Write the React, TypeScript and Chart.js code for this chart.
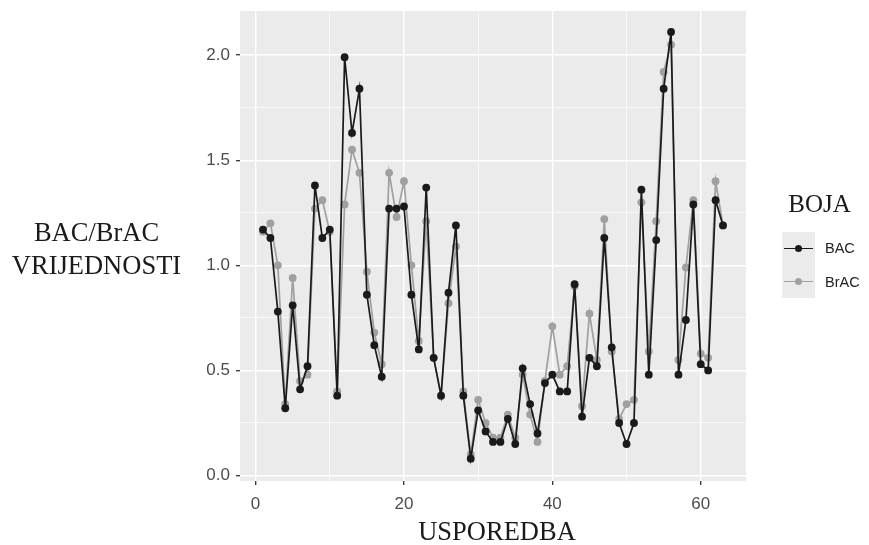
import React, { useEffect, useRef } from "react";
import { Chart, registerables } from "chart.js";

Chart.register(...registerables);

// ---- data ----
const comparisons = [
  1, 2, 3, 4, 5, 6, 7, 8, 9, 10, 11, 12, 13, 14, 15, 16, 17, 18, 19, 20, 21,
  22, 23, 24, 25, 26, 27, 28, 29, 30, 31, 32, 33, 34, 35, 36, 37, 38, 39, 40,
  41, 42, 43, 44, 45, 46, 47, 48, 49, 50, 51, 52, 53, 54, 55, 56, 57, 58, 59,
  60, 61, 62, 63,
];
const bac = [
  1.17, 1.13, 0.78, 0.32, 0.81, 0.41, 0.52, 1.38, 1.13, 1.17, 0.38, 1.99, 1.63,
  1.84, 0.86, 0.62, 0.47, 1.27, 1.27, 1.28, 0.86, 0.6, 1.37, 0.56, 0.38, 0.87,
  1.19, 0.38, 0.08, 0.31, 0.21, 0.16, 0.16, 0.27, 0.15, 0.51, 0.34, 0.2, 0.44,
  0.48, 0.4, 0.4, 0.91, 0.28, 0.56, 0.52, 1.13, 0.61, 0.25, 0.15, 0.25, 1.36,
  0.48, 1.12, 1.84, 2.11, 0.48, 0.74, 1.29, 0.53, 0.5, 1.31, 1.19,
];
const brac = [
  1.16, 1.2, 1.0, 0.34, 0.94, 0.45, 0.48, 1.27, 1.31, 1.16, 0.4, 1.29, 1.55,
  1.44, 0.97, 0.68, 0.53, 1.44, 1.23, 1.4, 1.0, 0.64, 1.21, 0.56, 0.38, 0.82,
  1.09, 0.4, 0.1, 0.36, 0.25, 0.18, 0.18, 0.29, 0.18, 0.48, 0.29, 0.16, 0.45,
  0.71, 0.48, 0.52, 0.9, 0.33, 0.77, 0.55, 1.22, 0.59, 0.27, 0.34, 0.36, 1.3,
  0.59, 1.21, 1.92, 2.05, 0.55, 0.99, 1.31, 0.58, 0.56, 1.4, 1.19,
];
const seriesNames = ["BAC", "BrAC"];
const xMajorTicks = [0, 20, 40, 60];
const xMinorTicks = [10, 30, 50];
const yMajorTicks = [0, 0.5, 1.0, 1.5, 2.0];
const yMinorTicks = [0.25, 0.75, 1.25, 1.75];
const xTitle = "USPOREDBA";
const yTitleLines = ["BAC/BrAC", "VRIJEDNOSTI"];
const legendTitle = "BOJA";

// ---- styles ----
const COLORS = ["#1a1a1a", "#a0a0a0"];
const PANEL_BG = "#ebebeb";
const SERIF = '"Liberation Serif", "Times New Roman", serif';
const SANS = '"Liberation Sans", Arial, sans-serif';

const panelBg = {
  id: "panelBg",
  beforeDraw(chart: any) {
    const { ctx, chartArea } = chart;
    if (!chartArea) return;
    ctx.save();
    ctx.fillStyle = PANEL_BG;
    ctx.fillRect(chartArea.left, chartArea.top, chartArea.width, chartArea.height);
    ctx.restore();
  },
};

function gridOpts(major: number[]) {
  return {
    color: "#ffffff",
    lineWidth: (c: any) => (c.tick && major.includes(c.tick.value) ? 1.4 : 0.7),
    tickColor: (c: any) => (c.tick && major.includes(c.tick.value) ? "#333333" : "rgba(0,0,0,0)"),
    tickWidth: 1.3,
    tickLength: 4,
    drawTicks: true,
  };
}

function zeroPadding(s: any) {
  s.paddingTop = 0;
  s.paddingBottom = 0;
  s.paddingLeft = 0;
  s.paddingRight = 0;
}

export default function App() {
  const ref = useRef<HTMLCanvasElement | null>(null);

  useEffect(() => {
    document.body.style.margin = "0";
    const canvas = ref.current;
    if (!canvas) return;
    const chart = new Chart(canvas, {
      type: "line",
      data: {
        datasets: [bac, brac].map((vals, k) => ({
          label: seriesNames[k],
          data: comparisons.map((x, i) => ({ x, y: vals[i] })),
          borderColor: COLORS[k],
          backgroundColor: COLORS[k],
          pointBackgroundColor: COLORS[k],
          pointBorderColor: COLORS[k],
          pointBorderWidth: 0,
          pointRadius: 3.9,
          borderWidth: 1.7,
          tension: 0,
          fill: false,
        })),
      },
      options: {
        responsive: false,
        animation: false,
        events: [],
        layout: { padding: { left: 190, right: 123, top: 11, bottom: 34 } },
        plugins: {
          legend: { display: false },
          tooltip: { enabled: false },
          title: { display: false },
        },
        scales: {
          x: {
            type: "linear",
            min: -2.1,
            max: 66.1,
            afterBuildTicks: (s: any) => {
              s.ticks = [...xMajorTicks, ...xMinorTicks]
                .sort((a, b) => a - b)
                .map((v) => ({ value: v }));
            },
            afterFit: (s: any) => {
              s.height = 30;
              zeroPadding(s);
            },
            ticks: {
              autoSkip: false,
              maxRotation: 0,
              padding: 9,
              color: "#4d4d4d",
              font: { family: SANS, size: 17 },
              callback: (v: any) => (xMajorTicks.includes(v) ? String(v) : ""),
            },
            grid: gridOpts(xMajorTicks),
            border: { display: false },
          },
          y: {
            type: "linear",
            min: -0.026,
            max: 2.21,
            afterBuildTicks: (s: any) => {
              s.ticks = [...yMajorTicks, ...yMinorTicks]
                .sort((a, b) => a - b)
                .map((v) => ({ value: v }));
            },
            afterFit: (s: any) => {
              s.width = 50;
              zeroPadding(s);
            },
            ticks: {
              autoSkip: false,
              padding: 6,
              color: "#4d4d4d",
              font: { family: SANS, size: 17 },
              callback: (v: any) => (yMajorTicks.includes(v) ? Number(v).toFixed(1) : ""),
            },
            grid: gridOpts(yMajorTicks),
            border: { display: false },
          },
        },
      },
      plugins: [panelBg],
    } as any);
    return () => chart.destroy();
  }, []);

  const keyBox = (k: number, top: number) => (
    <div
      key={k}
      style={{
        position: "absolute",
        left: 782,
        top,
        width: 33,
        height: 33,
        background: PANEL_BG,
      }}
    >
      <div
        style={{
          position: "absolute",
          left: 2,
          right: 2,
          top: 15.6,
          height: 1.8,
          background: COLORS[k],
        }}
      />
      <div
        style={{
          position: "absolute",
          left: 12.6,
          top: 12.6,
          width: 7.8,
          height: 7.8,
          borderRadius: "50%",
          background: COLORS[k],
        }}
      />
    </div>
  );

  return (
    <div style={{ position: "relative", width: 869, height: 545, background: "#ffffff", overflow: "hidden" }}>
      <canvas ref={ref} width={869} height={545} style={{ position: "absolute", left: 0, top: 0 }} />
      <div
        style={{
          position: "absolute",
          left: 0,
          width: 193,
          top: 216,
          textAlign: "center",
          fontFamily: SERIF,
          fontSize: 26.5,
          lineHeight: "33px",
          color: "#1a1a1a",
        }}
      >
        {yTitleLines.map((l) => (
          <div key={l}>{l}</div>
        ))}
      </div>
      <div
        style={{
          position: "absolute",
          left: 244,
          width: 506,
          top: 515,
          textAlign: "center",
          fontFamily: SERIF,
          fontSize: 26.5,
          lineHeight: "33px",
          color: "#1a1a1a",
        }}
      >
        {xTitle}
      </div>
      <div
        style={{
          position: "absolute",
          left: 772,
          width: 95,
          top: 187,
          textAlign: "center",
          fontFamily: SERIF,
          fontSize: 25,
          lineHeight: "33px",
          color: "#1a1a1a",
        }}
      >
        {legendTitle}
      </div>
      {keyBox(0, 232)}
      {keyBox(1, 265)}
      {seriesNames.map((n, k) => (
        <div
          key={n}
          style={{
            position: "absolute",
            left: 825,
            top: 238 + k * 34,
            fontFamily: SANS,
            fontSize: 14.5,
            lineHeight: "20px",
            color: "#222222",
          }}
        >
          {n}
        </div>
      ))}
    </div>
  );
}
